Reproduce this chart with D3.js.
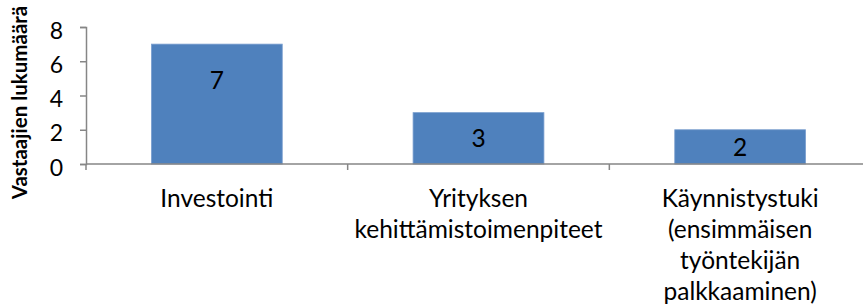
<!DOCTYPE html>
<html>
<head>
<meta charset="utf-8">
<script src="https://cdn.jsdelivr.net/npm/d3@7"></script>
<style>
  body { margin: 0; background: #fff; }
  text { font-family: Lato, 'Open Sans', sans-serif; fill: #000; }
</style>
</head>
<body>
<div id="chart"></div>
<script>
const categories = [
  ['Investointi'],
  ['Yrityksen', 'kehittämistoimenpiteet'],
  ['Käynnistystuki', '(ensimmäisen', 'työntekijän', 'palkkaaminen)']
]
const values = [7, 3, 2]
const yTicks = [0, 2, 4, 6, 8]
const yTitle = 'Vastaajien lukumäärä'

const width = 863
const height = 308
const margin = { top: 27, right: -8, bottom: 144, left: 86 }

const svg = d3
  .select('#chart')
  .append('svg')
  .attr('width', width)
  .attr('height', height)

const x = d3
  .scaleBand()
  .domain(d3.range(categories.length))
  .range([margin.left, width - margin.right])
  .paddingInner(0.5)
  .paddingOuter(0.25)

const y = d3
  .scaleLinear()
  .domain([0, 8])
  .range([height - margin.bottom, margin.top])

const axisColor = '#868686'

// bars
svg
  .selectAll('.bar')
  .data(values)
  .enter()
  .append('rect')
  .attr('class', 'bar')
  .attr('x', (d, i) => x(i))
  .attr('y', d => y(d))
  .attr('width', x.bandwidth())
  .attr('height', d => y(0) - y(d))
  .attr('fill', '#4f81bd')
  .attr('stroke', '#7a9fcf')
  .attr('stroke-width', 0.8)

// y axis
const yAxis = svg
  .append('g')
  .attr('transform', `translate(${margin.left},0)`)
  .call(d3.axisLeft(y).tickValues(yTicks).tickSize(6).tickPadding(17))
yAxis.select('.domain').attr('stroke', axisColor).attr('stroke-width', 1.5)
yAxis.selectAll('.tick line').attr('stroke', axisColor).attr('stroke-width', 1.5)
yAxis
  .selectAll('.tick text')
  .attr('font-size', 23)
  .attr('dy', '0.48em')
  .style('font-family', 'Lato, sans-serif')

// x axis line + ticks at band edges
const step = x.step()
const edges = d3.range(categories.length + 1).map(i => x(0) - step * x.paddingInner() / 2 + i * step)
svg
  .append('line')
  .attr('x1', margin.left)
  .attr('x2', width - margin.right)
  .attr('y1', y(0))
  .attr('y2', y(0))
  .attr('stroke', axisColor)
  .attr('stroke-width', 1.5)
svg
  .selectAll('.xtick')
  .data(edges)
  .enter()
  .append('line')
  .attr('class', 'xtick')
  .attr('x1', d => d)
  .attr('x2', d => d)
  .attr('y1', y(0))
  .attr('y2', y(0) + 6)
  .attr('stroke', axisColor)
  .attr('stroke-width', 1.5)

// category labels
svg
  .selectAll('.cat')
  .data(categories)
  .enter()
  .append('text')
  .attr('class', 'cat')
  .attr('text-anchor', 'middle')
  .attr('font-size', 24.5)
  .each(function (lines, i) {
    d3.select(this)
      .selectAll('tspan')
      .data(lines)
      .enter()
      .append('tspan')
      .attr('x', x(i) + x.bandwidth() / 2)
      .attr('y', (d, j) => y(0) + 43 + j * 31)
      .text(d => d)
  })

// value labels
svg
  .selectAll('.val')
  .data(values)
  .enter()
  .append('text')
  .attr('class', 'val')
  .attr('text-anchor', 'middle')
  .attr('font-size', 24.5)
  .attr('x', (d, i) => x(i) + x.bandwidth() / 2)
  .attr('y', d => y(d) + Math.min(36, (y(0) - y(d)) / 2))
  .attr('dy', '0.36em')
  .text(d => d)

// y title
svg
  .append('text')
  .attr('transform', `translate(27,${(margin.top + y(0)) / 2 + 7}) rotate(-90)`)
  .attr('text-anchor', 'middle')
  .attr('font-weight', 'bold')
  .attr('font-size', 20.5)
  .text(yTitle)
</script>
</body>
</html>
